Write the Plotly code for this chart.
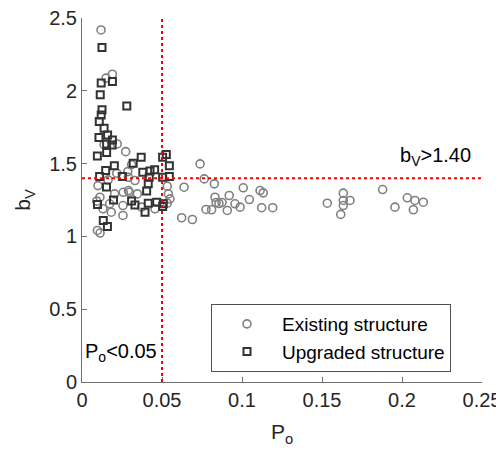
import plotly.graph_objects as go

# Existing structure (circles)
exist_x = [0.0119, 0.019, 0.015, 0.022, 0.0138, 0.0273, 0.031, 0.0738, 0.0286, 0.0217,
           0.0163, 0.029, 0.0331, 0.0764, 0.0827, 0.0638, 0.0533, 0.010, 0.0258, 0.0296,
           0.0204, 0.0112, 0.0346, 0.029, 0.054, 0.0092, 0.0173, 0.0256, 0.0131, 0.0183,
           0.0373, 0.0456, 0.0533, 0.055, 0.0256, 0.0623, 0.069, 0.0096, 0.0113, 0.0775,
           0.081, 0.0831, 0.092, 0.0838, 0.0856, 0.0875, 0.0908, 0.0956, 0.0988, 0.1008,
           0.1046, 0.1113, 0.1133, 0.1123, 0.1192, 0.1533, 0.1633, 0.1633, 0.1675, 0.1633,
           0.1617, 0.1879, 0.1956, 0.2033, 0.2081, 0.2133, 0.2071]
exist_y = [2.418, 2.114, 2.087, 1.635, 1.630, 1.582, 1.493, 1.498, 1.445, 1.434,
           1.388, 1.406, 1.384, 1.395, 1.361, 1.338, 1.345, 1.349, 1.303, 1.303,
           1.292, 1.269, 1.292, 1.315, 1.292, 1.242, 1.224, 1.212, 1.190, 1.166,
           1.201, 1.190, 1.228, 1.258, 1.144, 1.128, 1.116, 1.041, 1.023, 1.185,
           1.183, 1.269, 1.281, 1.233, 1.226, 1.233, 1.178, 1.224, 1.201, 1.334,
           1.253, 1.315, 1.299, 1.197, 1.197, 1.228, 1.297, 1.247, 1.247, 1.212,
           1.151, 1.322, 1.201, 1.265, 1.247, 1.235, 1.183]

# Upgraded structure (squares)
upg_x = [0.0125, 0.012, 0.019, 0.0114, 0.028, 0.0125, 0.012, 0.0108, 0.0138, 0.0106,
         0.016, 0.019, 0.0154, 0.0188, 0.0154, 0.0096, 0.037, 0.032, 0.0202, 0.0148,
         0.038, 0.0425, 0.0454, 0.0504, 0.0527, 0.0546, 0.011, 0.0252, 0.042, 0.0504,
         0.0546, 0.0414, 0.0153, 0.0404, 0.0197, 0.0097, 0.031, 0.0331, 0.0414, 0.0467,
         0.0508, 0.0504, 0.0394, 0.0133, 0.0159]
upg_y = [2.297, 2.053, 2.064, 1.973, 1.895, 1.870, 1.834, 1.790, 1.742, 1.680,
         1.697, 1.662, 1.635, 1.628, 1.577, 1.553, 1.543, 1.502, 1.486, 1.452,
         1.440, 1.449, 1.457, 1.543, 1.562, 1.486, 1.411, 1.411, 1.406, 1.406,
         1.411, 1.361, 1.339, 1.312, 1.250, 1.219, 1.243, 1.216, 1.228, 1.235,
         1.224, 1.205, 1.166, 1.110, 1.068]

x_ticks = [0, 0.05, 0.1, 0.15, 0.2, 0.25]
x_tick_labels = ["0", "0.05", "0.1", "0.15", "0.2", "0.25"]
y_ticks = [0, 0.5, 1, 1.5, 2, 2.5]
y_tick_labels = ["0", "0.5", "1", "1.5", "2", "2.5"]

p_threshold = 0.05
b_threshold = 1.40

FONT = "Liberation Sans, Arial, sans-serif"
TXT = "#262626"
AXC = "#707070"

fig = go.Figure()
fig.add_trace(go.Scatter(
    x=exist_x, y=exist_y, mode="markers", name="Existing structure",
    marker=dict(symbol="circle-open", size=8, color="#808080", line=dict(width=1.6, color="#808080")),
))
fig.add_trace(go.Scatter(
    x=upg_x, y=upg_y, mode="markers", name="Upgraded structure",
    marker=dict(symbol="square-open", size=7, color="#333333", line=dict(width=2, color="#333333")),
))

fig.add_shape(type="line", x0=p_threshold, x1=p_threshold, y0=0, y1=2.5, xref="x", yref="y",
              line=dict(color="red", width=2, dash="dot"))
fig.add_shape(type="line", x0=0, x1=0.25, y0=b_threshold, y1=b_threshold, xref="x", yref="y",
              line=dict(color="red", width=2, dash="dot"))

fig.add_annotation(x=0.1975, y=1.55, xref="x", yref="y", text="b<sub>V</sub>>1.40",
                   showarrow=False, xanchor="left", yanchor="middle",
                   font=dict(family=FONT, size=20, color="black"))
fig.add_annotation(x=0.0005, y=0.2, xref="x", yref="y", text="P<sub>o</sub><0.05",
                   showarrow=False, xanchor="left", yanchor="middle",
                   font=dict(family=FONT, size=20, color="black"))

# page body has an 8px margin; figure is sized/offset so the plot lands where the reference has it
fig.update_layout(
    width=496, height=444,
    margin=dict(l=74, r=22, t=10, b=70),
    plot_bgcolor="white", paper_bgcolor="white",
    font=dict(family=FONT, size=20, color=TXT),
    showlegend=True,
    legend=dict(x=(211 - 82) / 400, y=(382 - 304) / 364, xanchor="left", yanchor="top",
                bgcolor="white", bordercolor="#505050", borderwidth=1,
                font=dict(family=FONT, size=19, color="black"),
                itemwidth=60, tracegroupgap=0),
    xaxis=dict(range=[0, 0.25], tickvals=x_ticks, ticktext=x_tick_labels, automargin=False,
               ticklabeloverflow="allow",
               showgrid=False, zeroline=False, showline=True, linecolor=AXC, linewidth=1,
               ticks="inside", ticklen=5, tickcolor=AXC,
               title=dict(text="P<sub>o</sub>", font=dict(size=21, color=TXT), standoff=14)),
    yaxis=dict(range=[0, 2.5], tickvals=y_ticks, ticktext=y_tick_labels, automargin=False,
               ticklabeloverflow="allow",
               showgrid=False, zeroline=False, showline=True, linecolor=AXC, linewidth=1,
               ticks="inside", ticklen=5, tickcolor=AXC,
               title=dict(text="b<sub>V</sub>", font=dict(size=21, color=TXT), standoff=12)),
)

fig.write_html("out.html")
